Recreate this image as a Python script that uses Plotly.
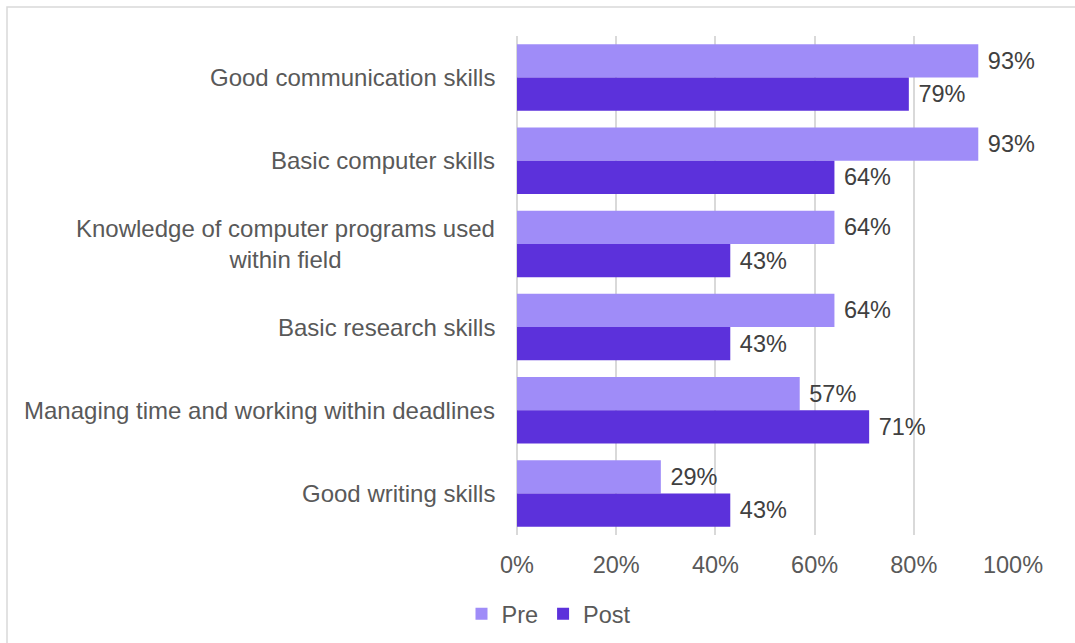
import plotly.graph_objects as go

categories = [
    "Good communication skills",
    "Basic computer skills",
    "Knowledge of computer programs used<br>within field",
    "Basic research skills",
    "Managing time and working within deadlines",
    "Good writing skills",
]
pre_values = [0.93, 0.93, 0.64, 0.64, 0.57, 0.29]
post_values = [0.79, 0.64, 0.43, 0.43, 0.71, 0.43]
x_ticks = [0, 0.2, 0.4, 0.6, 0.8, 1.0]

PRE_COLOR = "#9f8cf8"
POST_COLOR = "#5c31db"
FONT = "Liberation Sans, Arial, sans-serif"
FS = 23.5

fig = go.Figure()
for name, vals, color in [("Pre", pre_values, PRE_COLOR), ("Post", post_values, POST_COLOR)]:
    fig.add_trace(go.Bar(
        name=name,
        y=categories,
        x=vals,
        orientation="h",
        marker=dict(color=color, line=dict(width=0)),
        texttemplate="\u00a0%{x:.0%}",
        textposition="outside",
        textfont=dict(size=FS, color="#404040", family=FONT),
        cliponaxis=False,
    ))

# category labels, centred line by line and right-aligned to the axis
for cat in categories:
    fig.add_annotation(
        x=0, y=cat, xref="x", yref="y",
        text=cat, showarrow=False,
        xanchor="right", yanchor="middle", align="center",
        xshift=-20,
        font=dict(size=24, color="#595959", family=FONT),
    )

# light frame around the chart
fig.add_shape(
    type="rect", xref="paper", yref="paper",
    x0=(7 - 517) / 496, x1=1.3, y0=-0.4, y1=(535 - 7) / 499,
    line=dict(color="#d9d9d9", width=1.5), fillcolor="rgba(0,0,0,0)", layer="below",
)

fig.update_layout(
    width=1075, height=643,
    margin=dict(l=517, r=62, t=36, b=108, autoexpand=False),
    paper_bgcolor="white", plot_bgcolor="white",
    barmode="group", bargap=0.2, bargroupgap=0,
    font=dict(family=FONT, color="#595959", size=FS),
    xaxis=dict(
        range=[0, 1.0], tickvals=x_ticks, tickformat=".0%",
        showgrid=True, gridcolor="#d9d9d9", gridwidth=1.5,
        zeroline=True, zerolinecolor="#d9d9d9", zerolinewidth=1.5,
        showline=False, ticks="", ticklabelstandoff=13, automargin=False,
        tickfont=dict(size=FS, color="#595959"),
    ),
    yaxis=dict(
        autorange="reversed", showticklabels=False, automargin=False,
        showgrid=False, zeroline=False, showline=False, ticks="",
    ),
    legend=dict(
        orientation="h", x=(549 - 517) / 496, xanchor="center",
        y=(535 - 614) / 499, yanchor="middle",
        font=dict(size=FS, color="#595959"),
        itemwidth=30, traceorder="normal",
    ),
    showlegend=True,
)

fig.write_html("out.html")
